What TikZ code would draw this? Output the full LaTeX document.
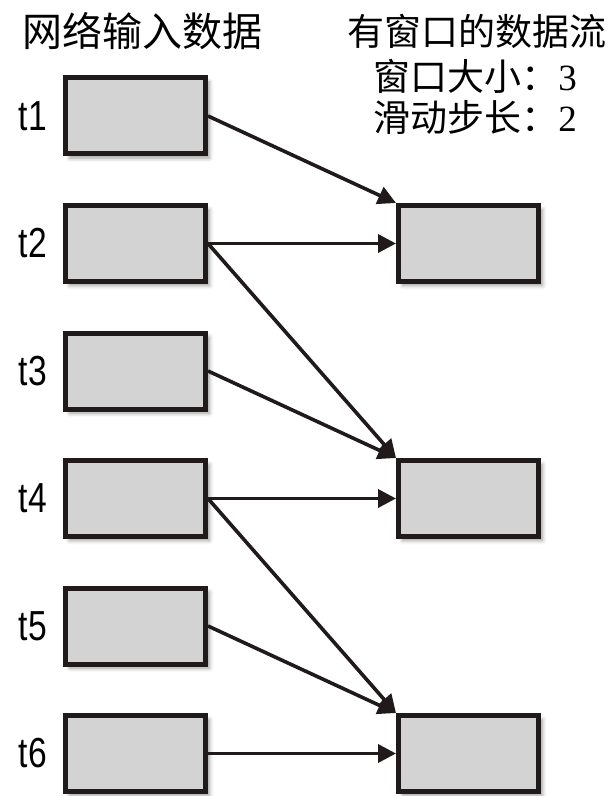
\documentclass[tikz,border=0pt]{standalone}
\usepackage{fontspec}
\setmainfont{Liberation Serif}
\newfontfamily\cjk{Noto Sans CJK SC}
\newfontfamily\etiq[FakeStretch=0.8]{Liberation Sans}
\usepackage{xcolor}
\definecolor{grisclair}{RGB}{211,211,211}
\definecolor{noir}{RGB}{33,26,26}
\usetikzlibrary{arrows.meta,shadows.blur,positioning}

\begin{document}
\begin{tikzpicture}[x=0.5pt,y=-0.5pt,
    boite/.style={draw=noir,fill=grisclair,line width=2.5pt,minimum width=70pt,minimum height=38pt,inner sep=0pt,
      blur shadow={shadow xshift=2pt,shadow yshift=-2pt,shadow blur radius=2pt}},
    fleche/.style={draw=noir,line width=1.8pt,-{Triangle[length=9pt,width=9pt]}},
    etiquette/.style={font=\etiq\fontsize{21}{24}\selectfont},
    titre/.style={font=\cjk\fontsize{18.5}{22}\selectfont}]
    \useasboundingbox (0,0) rectangle (610,796);
    % titres
    \node[titre,font=\cjk\fontsize{20}{24}\selectfont] (entree) at (142,31) {网络输入数据};
    \node[titre] (flux) at (477,31) {有窗口的数据流};
    \node[titre] (taille) at (475,76) {窗口大小：{\rmfamily 3}};
    \node[titre] (pas) at (475,117) {滑动步长：{\rmfamily 2}};
    % donnees en entree
    \node[boite] (t1) at (135.5,116) {};
    \node[boite] (t2) at (135.5,243.5) {};
    \node[boite] (t3) at (135.5,371) {};
    \node[boite] (t4) at (135.5,498.5) {};
    \node[boite] (t5) at (135.5,626) {};
    \node[boite] (t6) at (135.5,753.5) {};
    \node[etiquette] (l1) at (33,116) {t1};
    \node[etiquette] (l2) at (33,243.5) {t2};
    \node[etiquette] (l3) at (33,371) {t3};
    \node[etiquette] (l4) at (33,498.5) {t4};
    \node[etiquette] (l5) at (33,626) {t5};
    \node[etiquette] (l6) at (33,753.5) {t6};
    % fenetres
    \node[boite] (f1) at (468.5,243.5) {};
    \node[boite] (f2) at (468.5,498.5) {};
    \node[boite] (f3) at (468.5,753.5) {};
    \path[fleche] (t1.east) -- (f1.north west);
    \path[fleche] (t2.east) -- (f1.west);
    \path[fleche] (t2.east) -- (f2.north west);
    \path[fleche] (t3.east) -- (f2.north west);
    \path[fleche] (t4.east) -- (f2.west);
    \path[fleche] (t4.east) -- (f3.north west);
    \path[fleche] (t5.east) -- (f3.north west);
    \path[fleche] (t6.east) -- (f3.west);
\end{tikzpicture}
\end{document}
